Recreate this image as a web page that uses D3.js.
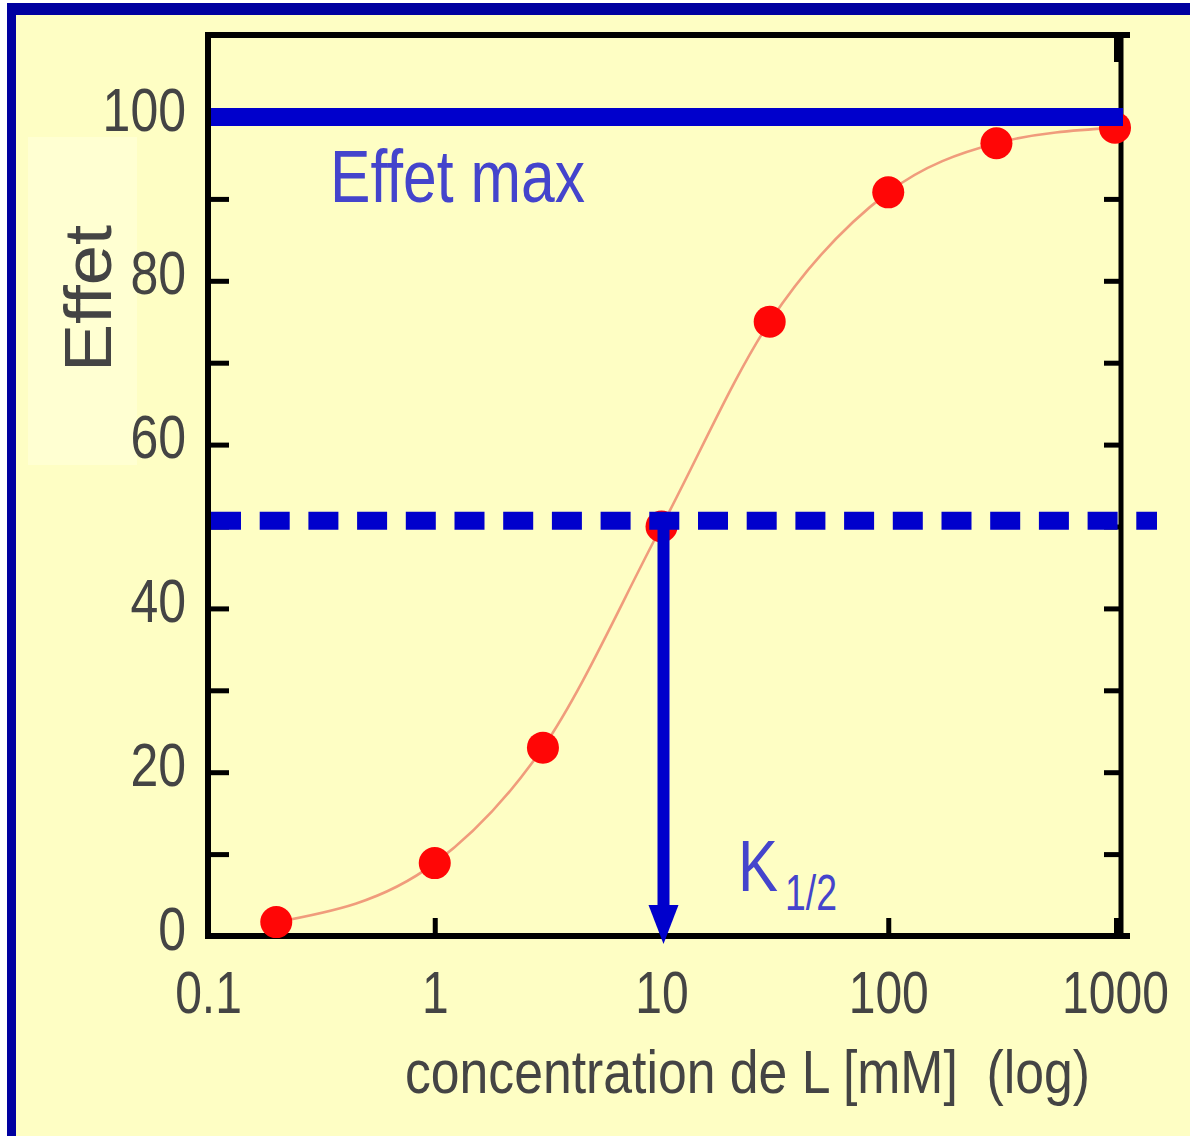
<!DOCTYPE html>
<html>
<head>
<meta charset="utf-8">
<script src="https://cdn.jsdelivr.net/npm/d3@7"></script>
<style>
body { margin: 0; background: #fff; }
text { font-family: "Liberation Sans", Arial, Helvetica, sans-serif; }
</style>
</head>
<body>
<div id="chart"></div>
<script>
// values
var concentration = [0.2, 1, 3, 10, 30, 100, 300, 1000];
var effet = [1.7, 8.9, 23, 50, 75, 90.8, 96.8, 98.7];
var effetMax = 100;
var effetHalf = 50.7;
var k12 = 10;
var xTicks = [0.1, 1, 10, 100, 1000];
var xTickLabels = ["0.1", "1", "10", "100", "1000"];
var yTicks = [0, 10, 20, 30, 40, 50, 60, 70, 80, 90, 100];
var yTickLabels = ["0", "", "20", "", "40", "", "60", "", "80", "", "100"];

var width = 1190, height = 1136;
var plot = {left: 208, right: 1121, top: 35, bottom: 936};
var blue = "#0000cc";

var svg = d3.select("#chart")
  .append("svg")
  .attr("width", width)
  .attr("height", height);

// slide background with its blue border
svg.append("rect").attr("x", 7).attr("y", 3)
  .attr("width", width - 7).attr("height", height - 3).attr("fill", "#0000a0");
svg.append("rect").attr("x", 16).attr("y", 15)
  .attr("width", width - 16).attr("height", height - 15).attr("fill", "#fefec4");
svg.append("rect").attr("x", 28).attr("y", 137)
  .attr("width", 109).attr("height", 328).attr("fill", "#ffffd2");

// 1000 sits a little inside the right frame line
var x = d3.scaleLog()
  .domain([0.1, 1000])
  .range([plot.left, 1115]);

var y = d3.scaleLinear()
  .domain([0, 100])
  .range([plot.bottom, 117]);

// frame
var frame = svg.append("g").attr("stroke", "#000").attr("fill", "none");
frame.append("path")
  .attr("d", "M" + plot.left + "," + (plot.bottom + 3) + "V" + plot.top + "H1130")
  .attr("stroke-width", 6);
frame.append("line")
  .attr("x1", plot.right).attr("x2", plot.right)
  .attr("y1", plot.top).attr("y2", plot.bottom)
  .attr("stroke-width", 5);
frame.append("line")
  .attr("x1", plot.left - 3).attr("x2", 1130)
  .attr("y1", plot.bottom).attr("y2", plot.bottom)
  .attr("stroke-width", 6);

// left axis
var yAxisL = svg.append("g")
  .attr("transform", "translate(" + plot.left + ",0)")
  .call(d3.axisLeft(y).tickValues(yTicks).tickSize(-21).tickPadding(22)
    .tickFormat(function(d, i) { return yTickLabels[i]; }));
yAxisL.select(".domain").remove();
yAxisL.selectAll("line").attr("stroke", "#000").attr("stroke-width", 5);
yAxisL.selectAll("text")
  .attr("x", null).attr("dy", null)
  .attr("transform", "translate(-22,13) scale(1,1.22)")
  .attr("font-size", 50)
  .attr("font-family", "Liberation Sans, Arial, sans-serif")
  .attr("fill", "#444");

// right axis
var yAxisR = svg.append("g")
  .attr("transform", "translate(" + plot.right + ",0)")
  .call(d3.axisRight(y).tickValues(yTicks).tickSize(-17).tickFormat(""));
yAxisR.select(".domain").remove();
yAxisR.selectAll("line").attr("stroke", "#000").attr("stroke-width", 5);

// bottom axis
var xAxis = svg.append("g")
  .attr("transform", "translate(0," + plot.bottom + ")")
  .call(d3.axisBottom(x).tickValues(xTicks).tickSize(-18)
    .tickFormat(function(d, i) { return xTickLabels[i]; }));
xAxis.select(".domain").remove();
xAxis.selectAll("line").attr("stroke", "#000").attr("stroke-width", 5);
xAxis.selectAll("line").filter(function(d) { return d === 1000; })
  .attr("stroke-width", 9).attr("transform", "translate(3,0)");
xAxis.selectAll("text")
  .attr("y", null).attr("dy", null)
  .attr("transform", "translate(0,77) scale(1,1.25)")
  .attr("font-size", 48)
  .attr("font-family", "Liberation Sans, Arial, sans-serif")
  .attr("fill", "#444");

// top tick at 1000 only
var xTop = svg.append("g")
  .attr("transform", "translate(0," + plot.top + ")")
  .call(d3.axisTop(x).tickValues([1000]).tickSize(-27).tickFormat(""));
xTop.select(".domain").remove();
xTop.selectAll("line").attr("stroke", "#000").attr("stroke-width", 9)
  .attr("transform", "translate(3,0)");

// fitted curve through the measured points
var pts = concentration.map(function(c, i) { return [c, effet[i]]; });
var curve = d3.line()
  .x(function(d) { return x(d[0]); })
  .y(function(d) { return y(d[1]); })
  .curve(d3.curveMonotoneX);

svg.append("path")
  .datum(pts)
  .attr("d", curve)
  .attr("fill", "none")
  .attr("stroke", "#f09c7c")
  .attr("stroke-width", 2.6);

svg.selectAll(".pt")
  .data(pts)
  .enter()
  .append("circle")
  .attr("class", "pt")
  .attr("cx", function(d) { return x(d[0]); })
  .attr("cy", function(d) { return y(d[1]); })
  .attr("r", 16)
  .attr("fill", "#ff0606");

// effet max line
svg.append("line")
  .attr("x1", plot.left + 3).attr("x2", plot.right + 2)
  .attr("y1", y(effetMax)).attr("y2", y(effetMax))
  .attr("stroke", blue).attr("stroke-width", 18);

// half effect dashed line
svg.append("line")
  .attr("x1", plot.left + 3).attr("x2", 1157)
  .attr("y1", y(effetHalf)).attr("y2", y(effetHalf))
  .attr("stroke", blue).attr("stroke-width", 18)
  .attr("stroke-dasharray", "30,18.7");

// K1/2 arrow
var kx = x(k12) + 2;
svg.append("line")
  .attr("x1", kx).attr("x2", kx)
  .attr("y1", y(effetHalf)).attr("y2", plot.bottom - 25)
  .attr("stroke", blue).attr("stroke-width", 12);
svg.append("path")
  .attr("d", "M" + (kx - 15) + "," + (plot.bottom - 31) + "L" + (kx + 15) + "," + (plot.bottom - 31) +
    "L" + kx + "," + (plot.bottom + 8) + "Z")
  .attr("fill", blue);

// texts
svg.append("text")
  .attr("transform", "translate(330,202) scale(1,1.23)")
  .attr("font-size", 60)
  .attr("textLength", 255)
  .attr("lengthAdjust", "spacingAndGlyphs")
  .attr("fill", "#4444cc")
  .text("Effet max");

svg.append("text")
  .attr("transform", "translate(738,891) scale(1,1.2)")
  .attr("font-size", 60)
  .attr("fill", "#4444cc")
  .text("K");
svg.append("text")
  .attr("transform", "translate(785,910) scale(1,1.3)")
  .attr("font-size", 38)
  .attr("textLength", 52)
  .attr("lengthAdjust", "spacingAndGlyphs")
  .attr("fill", "#4444cc")
  .text("1/2");

svg.append("text")
  .attr("transform", "translate(111,372) rotate(-90)")
  .attr("font-size", 66)
  .attr("textLength", 147)
  .attr("lengthAdjust", "spacingAndGlyphs")
  .attr("fill", "#444")
  .text("Effet");

svg.append("text")
  .attr("transform", "translate(405,1093) scale(1,1.12)")
  .attr("font-size", 54)
  .attr("textLength", 685)
  .attr("lengthAdjust", "spacingAndGlyphs")
  .attr("fill", "#444")
  .style("white-space", "pre")
  .text("concentration de L [mM]  (log)");
</script>
</body>
</html>
